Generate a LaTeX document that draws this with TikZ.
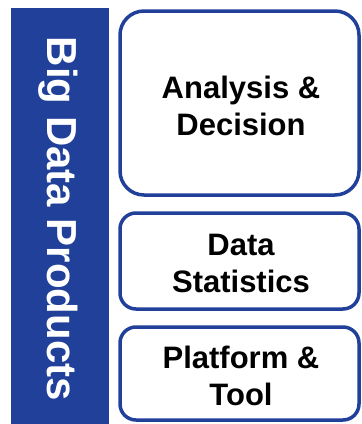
\documentclass[tikz,border=0pt]{standalone}
\usepackage{fontspec}
\setmainfont{Liberation Sans}
\definecolor{barblue}{RGB}{33,64,154}
\begin{document}
\begin{tikzpicture}[x=1pt,y=-1pt,
  layerbox/.style={draw=barblue, line width=3.5pt, fill=white, rectangle,
    inner sep=0pt, outer sep=0pt, align=center,
    font=\fontsize{31}{37}\selectfont\bfseries},
  bartext/.style={text=white, rotate=-90, inner sep=0pt,
    font=\fontsize{42}{50}\selectfont\bfseries}]
\useasboundingbox (0,0) rectangle (362,424);
\fill[barblue] (11,8) rectangle (109,424);
\node[bartext] (bar) at (58,219) {Big Data Products};
\node[layerbox, rounded corners=24pt, minimum width=239pt, minimum height=184pt] (ad) at (239.5,103) {};
\node[font=\fontsize{31}{37}\selectfont\bfseries, align=center, inner sep=0pt] (adt) at (241,106) {Analysis \&\\Decision};
\node[layerbox, rounded corners=16pt, minimum width=239pt, minimum height=96pt] (ds) at (239.5,261) {};
\node[font=\fontsize{31}{37}\selectfont\bfseries, align=center, inner sep=0pt] (dst) at (241,263) {Data\\Statistics};
\node[layerbox, rounded corners=16pt, minimum width=239pt, minimum height=93pt] (pt) at (239.5,373.5) {};
\node[font=\fontsize{31}{37}\selectfont\bfseries, align=center, inner sep=0pt] (ptt) at (241,376) {Platform \&\\Tool};
\end{tikzpicture}
\end{document}
